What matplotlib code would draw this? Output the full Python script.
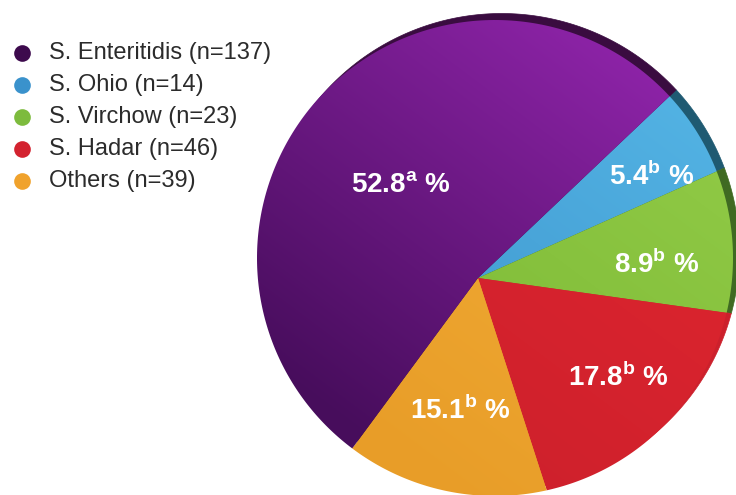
import numpy as np
import matplotlib
matplotlib.use("Agg")
import matplotlib.pyplot as plt
from matplotlib.patches import Polygon
from matplotlib.colors import to_rgb

serotypes = ["S. Enteritidis", "S. Ohio", "S. Virchow", "S. Hadar", "Others"]
counts = [137, 14, 23, 46, 39]
percents = [52.8, 5.4, 8.9, 17.8, 15.1]
letters = ["a", "b", "b", "b", "b"]

legend_colors = ["#3d0a4d", "#3a92cc", "#7dbb3d", "#d3222f", "#f0a22c"]
light_colors = ["#9526b0", "#55b6e6", "#93cc48", "#e2262f", "#f4b03a"]
dark_colors = ["#470d5c", "#3d94cc", "#7bb834", "#cc202c", "#e89d28"]
rim_colors = ["#3a0c40", "#1f5a72", "#3f6a22", "#cc202c", "#e89d28"]

plt.rcParams["font.family"] = ["Liberation Sans", "DejaVu Sans"]

W, H = 736, 495
fig = plt.figure(figsize=(W / 100, H / 100), dpi=100)
ax = fig.add_axes([0, 0, 1, 1])
ax.set_xlim(0, W)
ax.set_ylim(H, 0)
ax.axis("off")

apex = np.array([478.0, 278.0])
top_c, top_r = np.array([495.0, 258.0]), 238.0
rim_c, rim_r = np.array([501.5, 251.5]), 238.0
start = 43.5


def wedge(a0, a1, c, r):
    th = np.radians(np.linspace(a0, a1, 200))
    d = np.stack([np.cos(th), -np.sin(th)], axis=1)
    pc = apex - c
    b = d @ pc
    t = -b + np.sqrt(b ** 2 - (pc @ pc - r ** 2))
    pts = apex + d * t[:, None]
    return np.vstack([apex, pts])


# slices run clockwise from the start angle: Ohio, Virchow, Hadar, Others, Enteritidis
order = [1, 2, 3, 4, 0]
spans = {}
acc = 0.0
for i in order:
    spans[i] = (start - acc * 3.6, start - (acc + percents[i]) * 3.6)
    acc += percents[i]

# dark side rim (visible at upper right)
for i in order:
    a0, a1 = spans[i]
    ax.add_patch(Polygon(wedge(a0, a1, rim_c, rim_r),
                         closed=True, fc=rim_colors[i], ec=rim_colors[i], lw=0.5, zorder=1))

# shading: light upper right -> dark lower left
yy, xx = np.mgrid[0:H, 0:W]
g = ((xx - 700) * -0.6 + (yy - 40) * 0.8) / 520.0
g = np.clip(g, 0, 1)[..., None]

for i in order:
    a0, a1 = spans[i]
    poly = Polygon(wedge(a0, a1, top_c, top_r), closed=True, fc="none", ec="none")
    ax.add_patch(poly)
    lo, hi = np.array(to_rgb(light_colors[i])), np.array(to_rgb(dark_colors[i]))
    img = lo * (1 - g) + hi * g
    im = ax.imshow(img, extent=(0, W, H, 0), zorder=2, interpolation="bilinear")
    im.set_clip_path(poly)

ax.set_xlim(0, W)
ax.set_ylim(H, 0)
ax.set_aspect("auto")

# percentage labels
label_pos = [(401, 186), (652, 176), (657, 264), (618, 377), (460, 410)]
plt.rcParams["mathtext.fontset"] = "custom"
plt.rcParams["mathtext.bf"] = "Liberation Sans:bold"
plt.rcParams["mathtext.rm"] = "Liberation Sans:bold"
for (x, y), p, l in zip(label_pos, percents, letters):
    ax.text(x, y, f"{p:.1f}" + r"$^{\mathbf{" + l + "}}$ %", color="white",
            fontsize=20, fontweight="bold",
            ha="center", va="center", zorder=5)

# legend
for i, (name, n) in enumerate(zip(serotypes, counts)):
    y = 53 + i * 32
    ax.plot(22, y, "o", ms=12, color=legend_colors[i], mec="none", zorder=5)
    ax.text(49, y, f"{name} (n={n})", fontsize=17, color="#2b2b2b",
            ha="left", va="center", zorder=5)

fig.savefig("out.png", dpi=100)
